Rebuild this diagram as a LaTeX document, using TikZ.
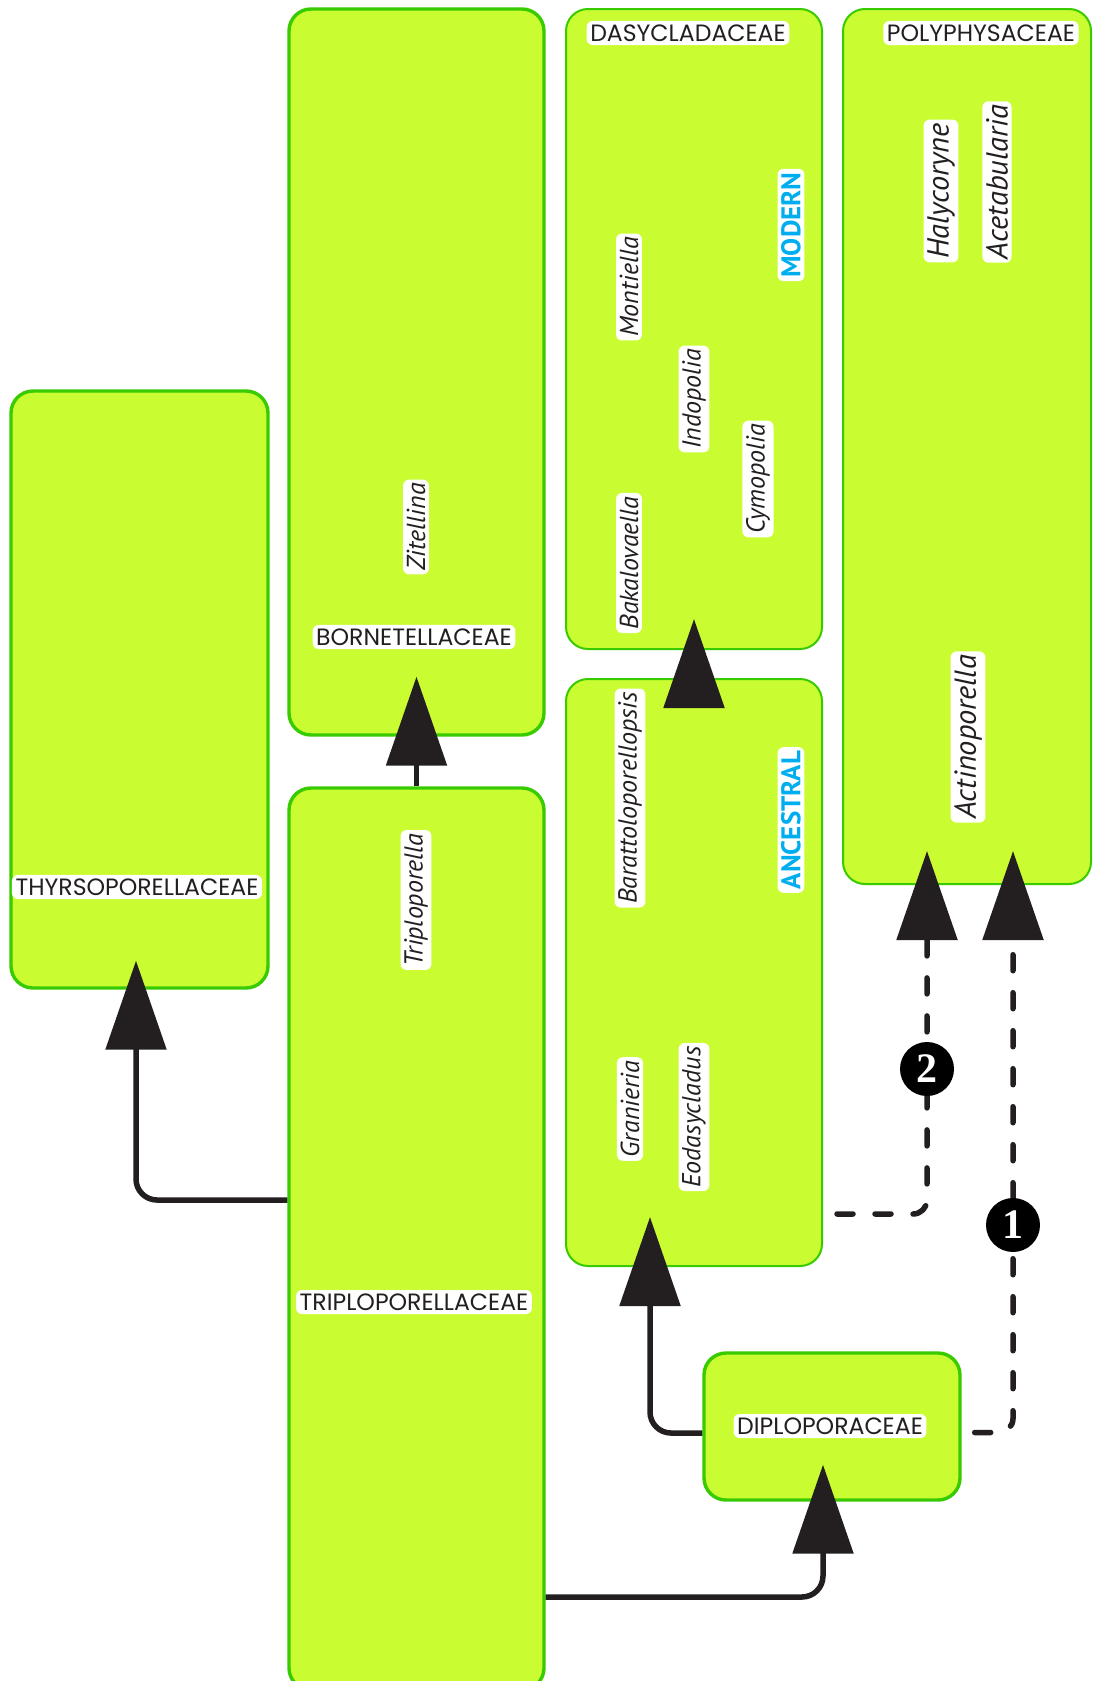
\documentclass[tikz,border=0pt]{standalone}
\usepackage{fontspec}
\setmainfont{PT Sans}
\newfontfamily\famfont{Poppins}
\newfontfamily\numfont{Liberation Serif}
\usetikzlibrary{arrows.meta}
\definecolor{limefill}{RGB}{202,252,50}
\definecolor{limeedge}{RGB}{56,204,0}
\definecolor{arrowgray}{RGB}{35,31,32}
\definecolor{cyanlabel}{RGB}{0,174,239}
\begin{document}
\begin{tikzpicture}[x=0.5pt,y=-0.5pt,
  famblock/.style={draw=limeedge, fill=limefill, line width=1.7pt, rounded corners=11pt, inner sep=0pt},
  thinblock/.style={famblock, line width=1pt},
  halo/.style={fill=white, rounded corners=3pt, inner sep=1.8pt, text=arrowgray},
  famname/.style={halo, font=\famfont\fontsize{11.8}{13}\selectfont},
  genus/.style={halo, rotate=90, font=\itshape\fontsize{13}{15}\selectfont},
  biggenus/.style={genus, font=\itshape\fontsize{15.2}{17}\selectfont},
  era/.style={halo, rotate=90, text=cyanlabel, font=\bfseries\fontsize{13.5}{15}\selectfont},
  link/.style={draw=arrowgray, line width=2.75pt, rounded corners=10.5pt, -{Triangle[width=30pt,length=44.5pt]}},
  dashlink/.style={link, line cap=round, dash pattern=on 8pt off 11pt, rounded corners=7pt},
  numdot/.style={circle, fill=black, minimum size=27pt, inner sep=0pt, text=white, font=\numfont\bfseries\fontsize{21}{21}\selectfont}
]
\useasboundingbox (0,0) rectangle (1093,1681);
\fill[white] (0,0) rectangle (1093,1681);

% family blocks
\node[famblock, minimum width=128.5pt, minimum height=298.5pt] (A) at (139.5,689.5) {};
\node[famblock, minimum width=127.5pt, minimum height=363pt] (B) at (416.5,372) {};
\node[thinblock, minimum width=128pt, minimum height=320pt] (C) at (694,329) {};
\node[thinblock, minimum width=124pt, minimum height=437.5pt] (D) at (967,446.5) {};
\node[thinblock, minimum width=128pt, minimum height=293.5pt] (E) at (694,972.5) {};
\node[famblock, minimum width=127.5pt, minimum height=451pt] (F) at (416.5,1239) {};
\node[famblock, minimum width=128pt, minimum height=73.5pt] (G) at (832,1426.5) {};

% connectors
\draw[link] (F.west |- 0,1200) -| ([xshift=-1.75pt,yshift=14.5pt]A.south);
\draw[link] (F.north) -- ([yshift=30pt]B.south);
\draw[link] (F.east |- 0,1597) -| ([xshift=-4.5pt,yshift=18.5pt]G.south);
\draw[link] ([yshift=-3.25pt]G.west) -| ([xshift=-22pt,yshift=25pt]E.south);
\draw[link] ([yshift=-14pt]E.north) -- ([yshift=15.5pt]C.south);
\draw[dashlink] ([xshift=7pt,yshift=-120.75pt]E.east) -| ([xshift=-20pt,yshift=17pt]D.south);
\draw[dashlink] ([xshift=6.5pt,yshift=-3pt]G.east) -| ([xshift=23pt,yshift=17pt]D.south);
\node[numdot] (n2) at (927,1069) {2};
\node[numdot] (n1) at (1013,1225) {1};

% labels
\node[famname] (tA) at (137,887) {THYRSOPORELLACEAE};
\node[famname] (tB) at (414,637) {BORNETELLACEAE};
\node[famname] (tC) at (688,33) {DASYCLADACEAE};
\node[famname] (tD) at (981,33) {POLYPHYSACEAE};
\node[famname] (tF) at (414,1302) {TRIPLOPORELLACEAE};
\node[famname] (tG) at (830,1426) {DIPLOPORACEAE};

\node[genus] (g1) at (416,527) {Zitellina};
\node[genus] (g2) at (629,287) {Montiella};
\node[genus] (g3) at (694,399) {Indopolia};
\node[genus] (g4) at (758,479) {Cymopolia};
\node[genus] (g5) at (629,563) {Bakalovaella};
\node[biggenus] (g6) at (941,191) {Halycoryne};
\node[biggenus] (g7) at (997,182) {Acetabularia};
\node[biggenus] (g8) at (968,737) {Actinoporella};
\node[genus] (g9) at (630,798) {Barattoloporellopsis};
\node[genus] (g10) at (630,1109) {Granieria};
\node[genus] (g11) at (694,1117) {Eodasycladus};
\node[genus] (g12) at (416,900) {Triploporella};

\node[era] (e1) at (791,225) {MODERN};
\node[era] (e2) at (791,820) {ANCESTRAL};
\end{tikzpicture}
\end{document}
